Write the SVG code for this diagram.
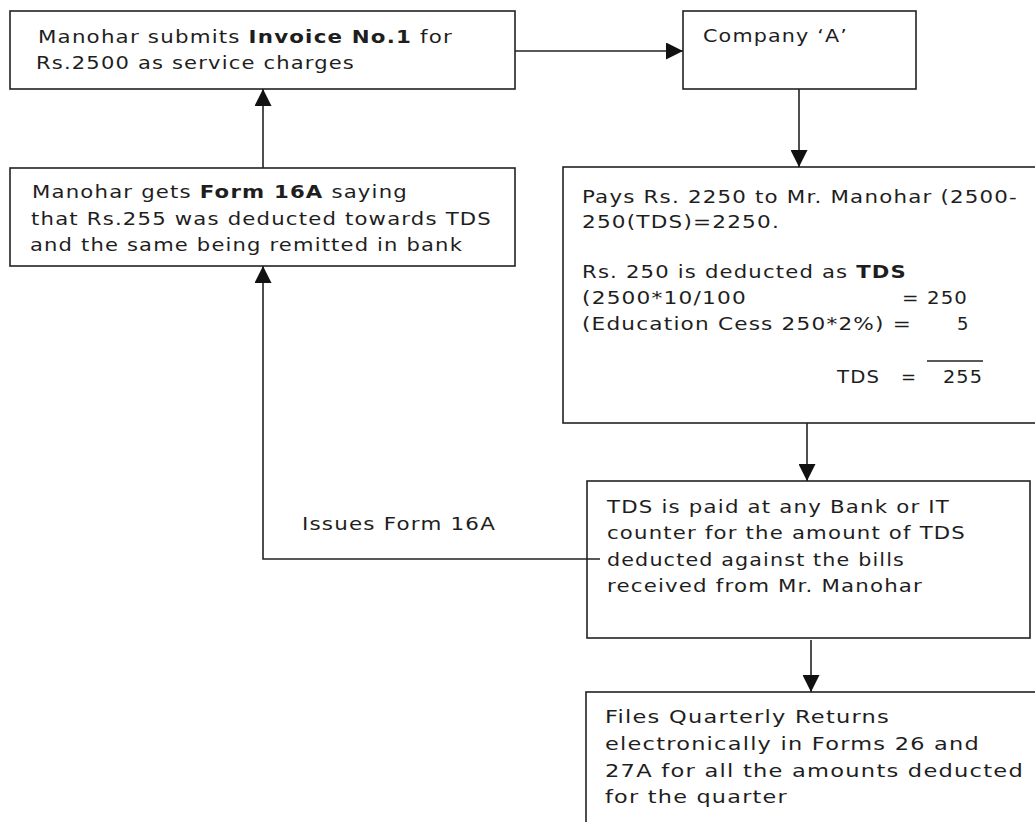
<svg xmlns="http://www.w3.org/2000/svg" width="1035" height="822" viewBox="0 0 1035 822">
  <defs>
    <style>
      .box { fill: #ffffff; stroke: #222222; stroke-width: 1.6; }
      .wire { fill: none; stroke: #222222; stroke-width: 1.6; }
      .t { font-family: "DejaVu Sans", Verdana, sans-serif; font-size: 18px; letter-spacing: 1px; fill: #1e1e1e; }
      .b { font-weight: bold; }
    </style>
    <marker id="arrow" viewBox="0 0 17 17" refX="17" refY="8.5" markerWidth="17" markerHeight="17" markerUnits="userSpaceOnUse" orient="auto">
      <path d="M0,0 L17,8.5 L0,17 z" fill="#111111"/>
    </marker>
  </defs>

  <rect width="1035" height="822" fill="#ffffff"/>

  <!-- invoice submission -->
  <g id="invoice">
    <rect class="box" x="10" y="11" width="505" height="78"/>
    <text class="t" x="38" y="43" textLength="415" lengthAdjust="spacingAndGlyphs">Manohar submits <tspan class="b">Invoice No.1</tspan> for</text>
    <text class="t" x="36" y="69" textLength="319" lengthAdjust="spacingAndGlyphs">Rs.2500 as service charges</text>
  </g>

  <!-- company -->
  <g id="company">
    <rect class="box" x="683" y="11" width="233" height="78"/>
    <text class="t" x="703" y="42" textLength="145" lengthAdjust="spacingAndGlyphs">Company ‘A’</text>
  </g>

  <!-- form 16A received -->
  <g id="form16a">
    <rect class="box" x="10" y="168" width="505" height="98"/>
    <text class="t" x="32" y="198" textLength="376" lengthAdjust="spacingAndGlyphs">Manohar gets <tspan class="b">Form 16A</tspan> saying</text>
    <text class="t" x="31" y="225" textLength="461" lengthAdjust="spacingAndGlyphs">that Rs.255 was deducted towards TDS</text>
    <text class="t" x="30" y="251" textLength="433" lengthAdjust="spacingAndGlyphs">and the same being remitted in bank</text>
  </g>

  <!-- payment and deduction -->
  <g id="payment">
    <rect class="box" x="563" y="167" width="480" height="256"/>
    <text class="t" x="582" y="203" textLength="436" lengthAdjust="spacingAndGlyphs">Pays Rs. 2250 to Mr. Manohar (2500-</text>
    <text class="t" x="582" y="228" textLength="198" lengthAdjust="spacingAndGlyphs">250(TDS)=2250.</text>
    <text class="t" x="582" y="278" textLength="325" lengthAdjust="spacingAndGlyphs">Rs. 250 is deducted as <tspan class="b">TDS</tspan></text>
    <text class="t" x="582" y="304" textLength="165" lengthAdjust="spacingAndGlyphs">(2500*10/100</text>
    <text class="t" x="902" y="304" textLength="66" lengthAdjust="spacingAndGlyphs">= 250</text>
    <text class="t" x="582" y="330" textLength="330" lengthAdjust="spacingAndGlyphs">(Education Cess 250*2%) =</text>
    <text class="t" x="957" y="330">5</text>
    <text class="t" x="837" y="383" textLength="43" lengthAdjust="spacingAndGlyphs">TDS</text>
    <text class="t" x="901" y="383">=</text>
    <line class="wire" x1="927" y1="361" x2="983" y2="361"/>
    <text class="t" x="943" y="383" textLength="40" lengthAdjust="spacingAndGlyphs">255</text>
  </g>

  <!-- TDS deposit -->
  <g id="deposit">
    <rect class="box" x="587" y="481" width="443" height="157"/>
    <text class="t" x="607" y="513" textLength="343" lengthAdjust="spacingAndGlyphs">TDS is paid at any Bank or IT</text>
    <text class="t" x="607" y="539" textLength="359" lengthAdjust="spacingAndGlyphs">counter for the amount of TDS</text>
    <text class="t" x="607" y="566" textLength="298" lengthAdjust="spacingAndGlyphs">deducted against the bills</text>
    <text class="t" x="607" y="592" textLength="316" lengthAdjust="spacingAndGlyphs">received from Mr. Manohar</text>
  </g>

  <!-- quarterly returns -->
  <g id="returns">
    <rect class="box" x="586" y="692" width="460" height="140"/>
    <text class="t" x="605" y="723" textLength="285" lengthAdjust="spacingAndGlyphs">Files Quarterly Returns</text>
    <text class="t" x="605" y="750" textLength="375" lengthAdjust="spacingAndGlyphs">electronically in Forms 26 and</text>
    <text class="t" x="605" y="777" textLength="419" lengthAdjust="spacingAndGlyphs">27A for all the amounts deducted</text>
    <text class="t" x="605" y="803" textLength="183" lengthAdjust="spacingAndGlyphs">for the quarter</text>
  </g>

  <!-- connectors, drawn over the boxes so the Form 16A line reaches into the deposit box -->
  <g id="connectors">
    <line class="wire" x1="263" y1="168" x2="263" y2="89" marker-end="url(#arrow)"/>
    <line class="wire" x1="515" y1="51" x2="683" y2="51" marker-end="url(#arrow)"/>
    <line class="wire" x1="799" y1="89" x2="799" y2="167" marker-end="url(#arrow)"/>
    <line class="wire" x1="807" y1="423" x2="807" y2="481" marker-end="url(#arrow)"/>
    <polyline class="wire" points="600,559 263,559 263,266" marker-end="url(#arrow)"/>
    <line class="wire" x1="811" y1="640" x2="811" y2="692" marker-end="url(#arrow)"/>
    <text class="t" x="302" y="530" textLength="194" lengthAdjust="spacingAndGlyphs">Issues Form 16A</text>
  </g>
</svg>
